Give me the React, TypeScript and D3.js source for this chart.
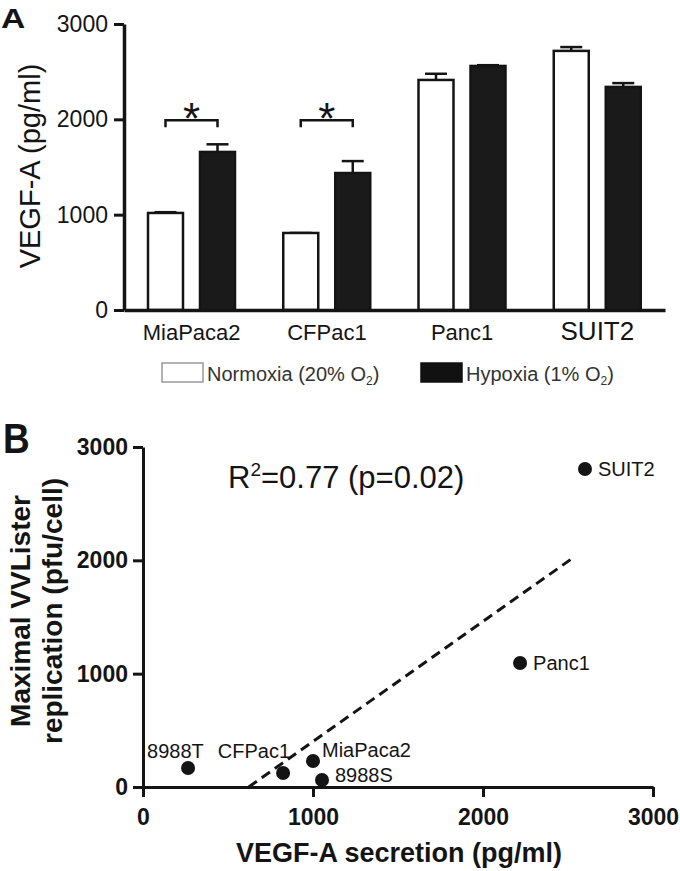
import { useRef, useEffect } from "react";
import * as d3 from "d3";

// ---- Panel A data: VEGF-A secretion (pg/ml) ----
const cellLines = ["MiaPaca2", "CFPac1", "Panc1", "SUIT2"];
const conditions = ["Normoxia", "Hypoxia"];
const normoxiaMean = [1018, 808, 2413, 2718];
const normoxiaErr = [8, 0, 65, 40];
const hypoxiaMean = [1658, 1437, 2560, 2340];
const hypoxiaErr = [80, 125, 8, 40];
const significantLines = ["MiaPaca2", "CFPac1"];
const vegfTicks = [0, 1000, 2000, 3000];

// ---- Panel B data: VEGF-A vs maximal VVLister replication ----
const scatterLines = ["8988T", "CFPac1", "MiaPaca2", "8988S", "Panc1", "SUIT2"];
const vegfSecretion = [265, 824, 1000, 1053, 2218, 2600];
const maxReplication = [168, 123, 230, 62, 1094, 2806];
const scatterTicks = [0, 1000, 2000, 3000];
const fitEndX = 2540;

export default function App() {
	const ref = useRef<SVGSVGElement>(null);

	useEffect(() => {
		const svg = d3.select(ref.current);
		svg.selectAll("*").remove();
		svg.attr("font-family", "'Liberation Sans', Arial, sans-serif");
		const ink = "#141414";

		// ================= Panel A =================
		const xA = d3.scaleBand<string>().domain(cellLines).range([124, 665]);
		const xInner = d3.scaleBand<string>().domain(conditions).range([24, 111]).paddingInner(0.327);
		const yA = d3.scaleLinear().domain([0, 3000]).range([310, 24]);
		const bw = xInner.bandwidth();

		const rows = cellLines.map((c, i) => ({
			cell: c,
			values: [
				{ cond: "Normoxia", mean: normoxiaMean[i], err: normoxiaErr[i] },
				{ cond: "Hypoxia", mean: hypoxiaMean[i], err: hypoxiaErr[i] },
			],
		}));

		const groups = svg
			.append("g")
			.selectAll("g")
			.data(rows)
			.join("g")
			.attr("transform", (d) => `translate(${xA(d.cell)},0)`);

		const bars = groups.selectAll("g").data((d) => d.values).join("g");

		// error bars (upper only)
		bars.append("line")
			.attr("x1", (d) => xInner(d.cond)! + bw / 2)
			.attr("x2", (d) => xInner(d.cond)! + bw / 2)
			.attr("y1", (d) => yA(d.mean))
			.attr("y2", (d) => yA(d.mean + d.err))
			.attr("stroke", ink)
			.attr("stroke-width", 2.5);
		bars.append("line")
			.attr("x1", (d) => xInner(d.cond)! + bw / 2 - 11)
			.attr("x2", (d) => xInner(d.cond)! + bw / 2 + 11)
			.attr("y1", (d) => yA(d.mean + d.err))
			.attr("y2", (d) => yA(d.mean + d.err))
			.attr("stroke", ink)
			.attr("stroke-width", 2.5);

		bars.append("rect")
			.attr("x", (d) => xInner(d.cond)!)
			.attr("y", (d) => yA(d.mean))
			.attr("width", bw)
			.attr("height", (d) => yA(0) - yA(d.mean))
			.attr("fill", (d) => (d.cond === "Normoxia" ? "#fff" : "#1a1a1a"))
			.attr("stroke", ink)
			.attr("stroke-width", 2.5);

		// significance brackets
		significantLines.forEach((c) => {
			const x1 = xA(c)! + xInner("Normoxia")! + bw / 2;
			const x2 = xA(c)! + xInner("Hypoxia")! + bw / 2;
			const by = yA(2000) + 1;
			svg.append("path")
				.attr("d", `M${x1},${by + 7}V${by}H${x2}V${by + 7}`)
				.attr("fill", "none")
				.attr("stroke", ink)
				.attr("stroke-width", 2.5);
			svg.append("text")
				.attr("x", (x1 + x2) / 2)
				.attr("y", by + 14)
				.attr("text-anchor", "middle")
				.attr("font-size", 44)
				.attr("fill", ink)
				.text("*");
		});

		// axes
		const yAxisA = svg
			.append("g")
			.attr("transform", "translate(124,0)")
			.call(d3.axisLeft(yA).tickValues(vegfTicks).tickSize(10).tickSizeOuter(0).tickPadding(6).tickFormat(d3.format("d")));
		yAxisA.select(".domain").attr("stroke", ink).attr("stroke-width", 3.5);
		yAxisA.selectAll(".tick line").attr("stroke", ink).attr("stroke-width", 3);
		yAxisA.selectAll(".tick text").attr("font-size", 23).attr("fill", ink);

		const xAxisA = svg
			.append("g")
			.attr("transform", "translate(0,310)")
			.call(d3.axisBottom(xA).tickSize(0).tickSizeOuter(0));
		xAxisA.select(".domain").attr("stroke", ink).attr("stroke-width", 3.5);
		xAxisA.selectAll<SVGTextElement, string>(".tick text")
			.attr("y", 30)
			.attr("dy", 0)
			.attr("fill", ink)
			.attr("font-size", (d) => (d === "SUIT2" ? 26 : 22));

		svg.append("text")
			.attr("transform", "translate(0,166) rotate(-90)")
			.attr("y", 40)
			.attr("text-anchor", "middle")
			.attr("font-size", 29)
			.attr("fill", ink)
			.text("VEGF-A (pg/ml)");

		svg.append("text")
			.attr("transform", "translate(1,28) scale(1.2,1)")
			.attr("font-size", 28)
			.attr("font-weight", "bold")
			.attr("fill", ink)
			.text("A");

		// legend
		const legend = [
			{ label: "Normoxia (20% O", x: 162, fill: "#fff", stroke: "#999" },
			{ label: "Hypoxia (1% O", x: 421, fill: "#111", stroke: "#111" },
		];
		legend.forEach((l) => {
			svg.append("rect")
				.attr("x", l.x)
				.attr("y", 363)
				.attr("width", 41)
				.attr("height", 19)
				.attr("fill", l.fill)
				.attr("stroke", l.stroke)
				.attr("stroke-width", 1.5);
			const t = svg.append("text")
				.attr("x", l.x + 45)
				.attr("y", 381)
				.attr("font-size", 20)
				.attr("fill", "#333");
			t.append("tspan").text(l.label);
			t.append("tspan").attr("font-size", 12).attr("dy", 4).text("2");
			t.append("tspan").attr("dy", -4).text(")");
		});

		// ================= Panel B =================
		const xB = d3.scaleLinear().domain([0, 3000]).range([143, 653]);
		const yB = d3.scaleLinear().domain([0, 3000]).range([787, 447]);

		// regression line
		const mx = d3.mean(vegfSecretion)!;
		const my = d3.mean(maxReplication)!;
		const slope =
			d3.sum(vegfSecretion, (v, i) => (v - mx) * (maxReplication[i] - my)) /
			d3.sum(vegfSecretion, (v) => (v - mx) ** 2);
		const intercept = my - slope * mx;
		const fitStartX = -intercept / slope;
		const fitLine = d3
			.line<number>()
			.x((v) => xB(v))
			.y((v) => yB(slope * v + intercept));
		svg.append("path")
			.attr("d", fitLine([fitStartX, fitEndX]))
			.attr("fill", "none")
			.attr("stroke", ink)
			.attr("stroke-width", 3)
			.attr("stroke-dasharray", "10,6");

		const yAxisB = svg
			.append("g")
			.attr("transform", "translate(143,0)")
			.call(d3.axisLeft(yB).tickValues(scatterTicks).tickSize(10).tickSizeOuter(0).tickPadding(5).tickFormat(d3.format("d")));
		const xAxisB = svg
			.append("g")
			.attr("transform", "translate(0,787)")
			.call(d3.axisBottom(xB).tickValues(scatterTicks).tickSize(10).tickSizeOuter(0).tickPadding(12).tickFormat(d3.format("d")));
		[yAxisB, xAxisB].forEach((ax) => {
			ax.select(".domain").attr("stroke", ink).attr("stroke-width", 3);
			ax.selectAll(".tick line").attr("stroke", ink).attr("stroke-width", 3);
			ax.selectAll(".tick text").attr("font-size", 23).attr("font-weight", "bold").attr("fill", ink);
		});

		const points = scatterLines.map((n, i) => ({ name: n, x: vegfSecretion[i], y: maxReplication[i] }));
		const labelPlacement: Record<string, { dx: number; dy: number; anchor: string }> = {
			"8988T": { dx: -41, dy: -10, anchor: "start" },
			CFPac1: { dx: 7, dy: -15, anchor: "end" },
			MiaPaca2: { dx: 9, dy: -4, anchor: "start" },
			"8988S": { dx: 13, dy: 2, anchor: "start" },
			Panc1: { dx: 13, dy: 7, anchor: "start" },
			SUIT2: { dx: 13, dy: 7, anchor: "start" },
		};

		svg.append("g")
			.selectAll("circle")
			.data(points)
			.join("circle")
			.attr("cx", (d) => xB(d.x))
			.attr("cy", (d) => yB(d.y))
			.attr("r", 7)
			.attr("fill", ink);

		svg.append("g")
			.selectAll("text")
			.data(points)
			.join("text")
			.attr("x", (d) => xB(d.x) + labelPlacement[d.name].dx)
			.attr("y", (d) => yB(d.y) + labelPlacement[d.name].dy)
			.attr("text-anchor", (d) => labelPlacement[d.name].anchor)
			.attr("font-size", 20)
			.attr("fill", ink)
			.text((d) => d.name);

		// R² annotation
		const r2 = svg.append("text").attr("x", 228).attr("y", 488).attr("font-size", 31).attr("fill", ink);
		r2.append("tspan").text("R");
		r2.append("tspan").attr("font-size", 19).attr("dy", -12).text("2");
		r2.append("tspan").attr("dy", 12).text("=0.77 (p=0.02)");

		// axis titles
		const yTitleB = svg
			.append("g")
			.attr("transform", "translate(0,611) rotate(-90)")
			.attr("text-anchor", "middle")
			.attr("font-size", 28)
			.attr("font-weight", "bold")
			.attr("fill", ink);
		yTitleB.append("text").attr("y", 30).text("Maximal VVLister");
		yTitleB.append("text").attr("y", 62).text("replication (pfu/cell)");

		svg.append("text")
			.attr("x", 399)
			.attr("y", 862)
			.attr("text-anchor", "middle")
			.attr("font-size", 27)
			.attr("font-weight", "bold")
			.attr("fill", ink)
			.text("VEGF-A secretion (pg/ml)");

		svg.append("text")
			.attr("transform", "translate(3,453) scale(0.88,1)")
			.attr("font-size", 42)
			.attr("font-weight", "bold")
			.attr("fill", ink)
			.text("B");
	}, []);

	return (
		<svg
			ref={ref}
			width={680}
			height={871}
			style={{ position: "absolute", left: 0, top: 0, background: "#fff" }}
		/>
	);
}
